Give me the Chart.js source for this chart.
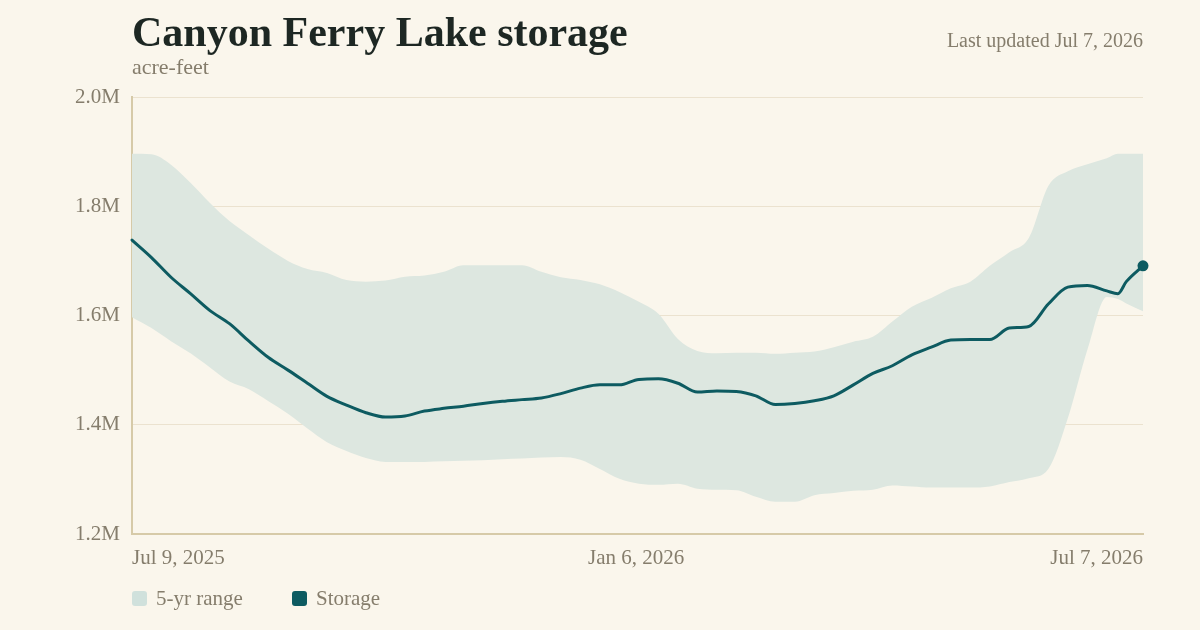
<!DOCTYPE html>
<html>
<head>
<meta charset="utf-8">
<title>Canyon Ferry Lake storage</title>
<script src="https://cdn.jsdelivr.net/npm/chart.js@4.4.1/dist/chart.umd.min.js"></script>
<style>
  html, body { margin: 0; padding: 0; background: #faf6ec; }
  #wrap { position: relative; width: 1200px; height: 630px; font-family: 'Liberation Serif', serif; }
  #chart { position: absolute; left: 0; top: 0; }
  .title { position: absolute; left: 132px; top: 11px; font-size: 42px; line-height: 1; font-weight: bold; color: #1d2723; white-space: nowrap; }
  .sub { position: absolute; left: 132px; top: 56px; font-size: 22px; line-height: 1; color: #857d6c; }
  .updated { position: absolute; right: 57px; top: 30px; font-size: 20px; line-height: 1; color: #857d6c; }
  .leg { position: absolute; top: 586px; font-size: 21px; line-height: 25px; color: #857d6c; white-space: nowrap; }
  .leg i { position: absolute; left: 0; top: 5px; width: 15px; height: 15px; border-radius: 3px; }
  .leg span { padding-left: 24px; }
</style>
</head>
<body>
<div id="wrap">
  <canvas id="chart" width="1200" height="630"></canvas>
  <div class="title">Canyon Ferry Lake storage</div>
  <div class="sub">acre-feet</div>
  <div class="updated">Last updated Jul 7, 2026</div>
  <div class="leg" style="left:132px"><i style="background:#d0e1dc"></i><span>5-yr range</span></div>
  <div class="leg" style="left:292px"><i style="background:#0d5b61"></i><span>Storage</span></div>
</div>
<script>
// days since Jul 9, 2025 (weekly, plus a couple of extra points at the end)
const days = [0, 7, 14, 21, 28, 35, 42, 49, 56, 63, 70, 77, 84, 91, 98, 105, 112, 119, 126, 133,
  140, 147, 154, 161, 168, 175, 182, 189, 196, 203, 210, 217, 224, 231, 238, 245, 252, 259, 266, 273,
  280, 287, 294, 301, 308, 315, 322, 329, 336, 343, 350, 354, 357, 363];

// storage, million acre-feet
const storage = [1.738, 1.706, 1.670, 1.640, 1.609, 1.585, 1.553, 1.523, 1.500, 1.476,
  1.452, 1.436, 1.422, 1.414, 1.416, 1.425, 1.430, 1.434, 1.439, 1.443,
  1.446, 1.449, 1.457, 1.467, 1.473, 1.473, 1.483, 1.484, 1.476, 1.460,
  1.462, 1.461, 1.453, 1.437, 1.439, 1.444, 1.453, 1.473, 1.494, 1.508,
  1.528, 1.542, 1.555, 1.556, 1.556, 1.577, 1.580, 1.621, 1.652, 1.655,
  1.645, 1.640, 1.662, 1.691];

// 5-yr range high / low
const rangeHigh = [1.896, 1.895, 1.876, 1.843, 1.806, 1.773, 1.747, 1.722, 1.700, 1.685,
  1.678, 1.665, 1.662, 1.664, 1.671, 1.673, 1.680, 1.692, 1.692, 1.692,
  1.692, 1.680, 1.670, 1.665, 1.657, 1.643, 1.625, 1.603, 1.557, 1.535,
  1.531, 1.532, 1.532, 1.530, 1.532, 1.534, 1.542, 1.552, 1.561, 1.589,
  1.616, 1.632, 1.650, 1.662, 1.691, 1.716, 1.742, 1.837, 1.864, 1.877,
  1.888, 1.896, 1.896, 1.896];
const rangeLow = [1.597, 1.577, 1.553, 1.531, 1.505, 1.479, 1.465, 1.443, 1.420, 1.393,
  1.368, 1.352, 1.339, 1.332, 1.332, 1.332, 1.333, 1.334, 1.335, 1.337,
  1.338, 1.340, 1.341, 1.336, 1.319, 1.301, 1.292, 1.290, 1.292, 1.283,
  1.281, 1.280, 1.268, 1.259, 1.259, 1.271, 1.275, 1.279, 1.281, 1.289,
  1.287, 1.285, 1.285, 1.285, 1.287, 1.295, 1.302, 1.319, 1.412, 1.537,
  1.634, 1.630, 1.622, 1.608];

const tickDays = [0, 181, 363];
const tickLabels = ['Jul 9, 2025', 'Jan 6, 2026', 'Jul 7, 2026'];

const teal = '#0d5b61';
const band = '#dde7e0';
const gray = '#857d6c';
const font = { family: "'Liberation Serif', serif", size: 21 };

function pts(arr) {
    return days.map((d, i) => ({ x: d, y: arr[i] }));
}

new Chart(document.getElementById('chart'), {
    type: 'line',
    data: {
        datasets: [{
            label: 'Storage',
            data: pts(storage),
            borderColor: teal,
            borderWidth: 3,
            borderCapStyle: 'round',
            borderJoinStyle: 'round',
            cubicInterpolationMode: 'monotone',
            pointRadius: ctx => ctx.dataIndex === days.length - 1 ? 5.5 : 0,
            pointBackgroundColor: teal,
            pointBorderWidth: 0,
            fill: false,
            clip: false
        }, {
            label: '5-yr high',
            data: pts(rangeHigh),
            borderWidth: 0,
            pointRadius: 0,
            cubicInterpolationMode: 'monotone',
            backgroundColor: band,
            fill: '+1'
        }, {
            label: '5-yr low',
            data: pts(rangeLow),
            borderWidth: 0,
            pointRadius: 0,
            cubicInterpolationMode: 'monotone',
            fill: false
        }]
    },
    options: {
        responsive: false,
        animation: false,
        layout: { padding: { top: 97, right: 57, bottom: 0, left: 0 } },
        plugins: {
            legend: { display: false },
            tooltip: { enabled: false }
        },
        scales: {
            x: {
                type: 'linear',
                min: 0,
                max: 363,
                afterFit: s => { s.height = 96; },
                afterBuildTicks: s => { s.ticks = tickDays.map(v => ({ value: v })); },
                grid: { display: false, drawTicks: false },
                border: { color: '#d6caa8', width: 2 },
                ticks: {
                    align: 'inner',
                    padding: 12,
                    maxRotation: 0,
                    autoSkip: false,
                    color: gray,
                    font: font,
                    callback: v => tickLabels[tickDays.indexOf(v)]
                }
            },
            y: {
                min: 1.2,
                max: 2.0,
                afterFit: s => { s.width = 132; },
                grid: { color: '#ebe2cf', drawTicks: false },
                border: { color: '#d6caa8', width: 2 },
                ticks: {
                    stepSize: 0.2,
                    padding: 12,
                    color: gray,
                    font: font,
                    callback: v => v.toFixed(1) + 'M'
                }
            }
        }
    }
});
</script>
</body>
</html>
